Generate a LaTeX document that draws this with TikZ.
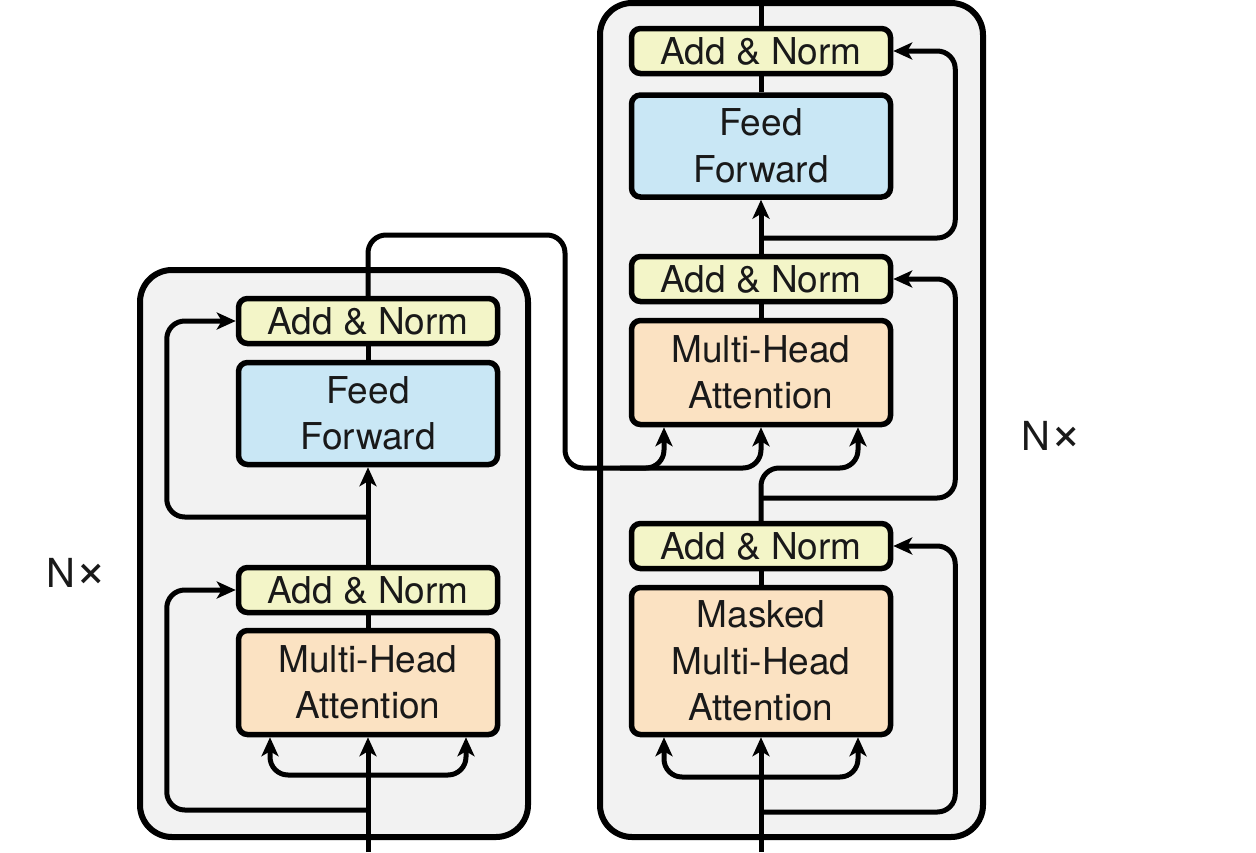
\documentclass[tikz,border=0pt]{standalone}
\usepackage{fontspec}
\setmainfont{TeX Gyre Heros}
\usetikzlibrary{arrows.meta}

\definecolor{normcol}{RGB}{243,245,200}
\definecolor{ffcol}{RGB}{201,231,245}
\definecolor{attcol}{RGB}{251,226,194}
\definecolor{stackcol}{RGB}{242,242,242}
\definecolor{inkcol}{RGB}{25,25,25}

\newcommand{\timesglyph}{{\fontsize{54}{54}\selectfont×}}

\tikzset{
  stack/.style={draw=black, fill=stackcol, line width=6pt, rounded corners=32pt},
  block/.style={draw=black, line width=5.5pt, rounded corners=9pt, minimum width=259pt,
    inner sep=0pt, align=center, text=inkcol, font=\fontsize{37}{46.5}\selectfont},
  addnorm/.style={block, fill=normcol, minimum height=45pt},
  ffbox/.style={block, fill=ffcol, minimum height=102pt},
  attbox/.style={block, fill=attcol, minimum height=104pt},
  flow/.style={line width=5pt, rounded corners=18pt},
  flowarrow/.style={flow, -{Stealth[length=19pt,width=17pt,inset=5pt]}},
  nlabel/.style={inner sep=0pt, anchor=west, text=inkcol, font=\fontsize{40}{48}\selectfont}
}

\begin{document}
\begin{tikzpicture}[x=1pt, y=-1pt]
\useasboundingbox (0,0) rectangle (1256,852);

% Stacks
\draw[stack] (140,270) rectangle (528,837); % Encoder
\draw[stack] (600,3) rectangle (983,837); % Decoder

% Encoder blocks
\node[attbox] (e_mha) at (368,682.5) {Multi-Head\\Attention};
\node[addnorm] (e_an1) at (368,590) {Add \& Norm};
\node[ffbox] (e_ff) at (368,413.5) {Feed\\Forward};
\node[addnorm] (e_an2) at (368,321) {Add \& Norm};

% Decoder blocks
\node[attbox, minimum height=147pt] (d_mmha) at (761,661) {Masked\\Multi-Head\\Attention};
\node[addnorm] (d_an1) at (761,546) {Add \& Norm};
\node[attbox] (d_mha) at (761,372.5) {Multi-Head\\Attention};
\node[addnorm] (d_an2) at (761,279) {Add \& Norm};
\node[ffbox] (d_ff) at (761,146) {Feed\\Forward};
\node[addnorm] (d_an3) at (761,51) {Add \& Norm};

% Repeat labels
\node[nlabel] (e_n) at (46,573) {N\timesglyph};
\node[nlabel] (d_n) at (1021,436) {N\timesglyph};

% Coordinates
\coordinate (e_in) at (368,852);
\coordinate (e_fork) at (368,775);
\coordinate (e_res1) at (368,810);
\coordinate (e_res2) at (368,517);
\coordinate (e_top) at (565,235);
\coordinate (e_bend) at (565,468);
\coordinate (e_mid) at (620,468);
\coordinate (d_in) at (761,852);
\coordinate (d_fork) at (761,777);
\coordinate (d_res1) at (761,812);
\coordinate (d_qbend) at (761,468);
\coordinate (d_res2) at (761,498);
\coordinate (d_res3) at (761,238);
\coordinate (d_out) at (761,0);

% Encoder lines
\draw[flowarrow] (e_in) -- (e_mha.south);
\draw[flowarrow] (e_fork) -| ([xshift=-98pt]e_mha.south);
\draw[flowarrow] (e_fork) -| ([xshift=98pt]e_mha.south);
\draw[flowarrow] (e_res1) -| ([xshift=-69pt]e_an1.west) -- (e_an1.west);
\draw[flow] (e_mha.north) -- (e_an1.south);
\draw[flowarrow] (e_an1.north) -- (e_ff.south);
\draw[flowarrow] (e_res2) -| ([xshift=-69pt]e_an2.west) -- (e_an2.west);
\draw[flow] (e_ff.north) -- (e_an2.south);

% Encoder output to decoder
\draw[flowarrow] (e_an2.north) |- (e_top) -- (e_bend) -| ([xshift=-97pt]d_mha.south);
\draw[flowarrow] (e_mid) -| (d_mha.south);

% Decoder lines
\draw[flowarrow] (d_in) -- (d_mmha.south);
\draw[flowarrow] (d_fork) -| ([xshift=-97pt]d_mmha.south);
\draw[flowarrow] (d_fork) -| ([xshift=97pt]d_mmha.south);
\draw[flowarrow] (d_res1) -| ([xshift=62pt]d_an1.east) -- (d_an1.east);
\draw[flow] (d_mmha.north) -- (d_an1.south);
\draw[flowarrow] (d_an1.north) -- (d_qbend) -| ([xshift=97pt]d_mha.south);
\draw[flowarrow] (d_res2) -| ([xshift=62pt]d_an2.east) -- (d_an2.east);
\draw[flow] (d_mha.north) -- (d_an2.south);
\draw[flowarrow] (d_an2.north) -- (d_ff.south);
\draw[flowarrow] (d_res3) -| ([xshift=62pt]d_an3.east) -- (d_an3.east);
\draw[flow] (d_ff.north) -- (d_an3.south);
\draw[flow] (d_an3.north) -- (d_out);

\end{tikzpicture}
\end{document}
